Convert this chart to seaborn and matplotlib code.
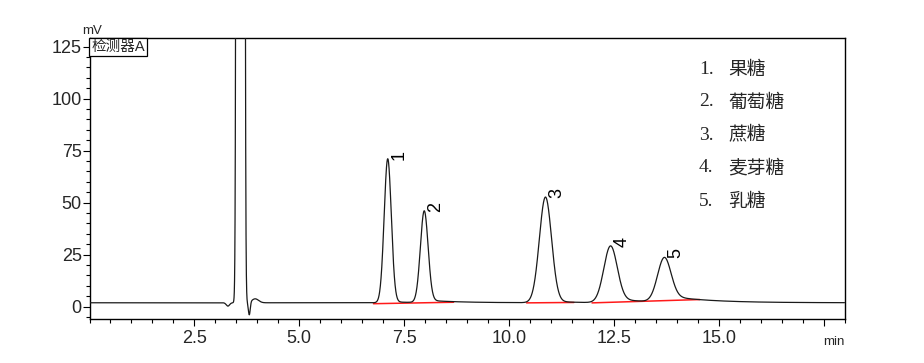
import math
import numpy as np
import pandas as pd
import matplotlib
matplotlib.use("Agg")
import matplotlib.pyplot as plt
import seaborn as sns

# ---------------- data ----------------
peak_labels = ["1", "2", "3", "4", "5"]
peak_names = ["果糖", "葡萄糖", "蔗糖", "麦芽糖", "乳糖"]
peak_rt = [7.11, 7.98, 10.87, 12.42, 13.70]          # min
peak_height = [69.0, 43.5, 50.3, 26.3, 19.8]         # mV above baseline
peak_sigma = [0.085, 0.092, 0.145, 0.160, 0.160]     # min
tail_height = [0.5, 1.2, 1.0, 2.0, 3.2]              # mV
tail_tau = [0.6, 0.8, 0.5, 0.8, 1.0]                 # min

# solvent front / system peaks
solvent_rt = [3.30, 3.60, 3.81, 3.95]
solvent_height = [-1.6, 40000.0, -6.2, 1.9]
solvent_sigma = [0.04, 0.035, 0.022, 0.08]

baseline_mv = 1.85

# integration baselines (red) : start/end time and level
bl_t0 = [6.77, 10.42, 11.98]
bl_t1 = [8.68, 11.55, 14.55]
bl_v0 = [1.4, 1.8, 1.8]
bl_v1 = [2.1, 2.0, 3.4]

x_ticks = [2.5, 5.0, 7.5, 10.0, 12.5, 15.0, 17.5]
x_ticklabels = ["2.5", "5.0", "7.5", "10.0", "12.5", "15.0", ""]
y_ticks = [0, 25, 50, 75, 100, 125]

# ---------------- build trace ----------------
t = np.arange(0.0, 18.0001, 0.002)
erf = np.vectorize(math.erf)
mv = np.full_like(t, baseline_mv)
for rt, h, s in zip(solvent_rt, solvent_height, solvent_sigma):
    mv += h * np.exp(-0.5 * ((t - rt) / s) ** 2)
for rt, h, s, th, tau in zip(peak_rt, peak_height, peak_sigma, tail_height, tail_tau):
    mv += h * np.exp(-0.5 * ((t - rt) / s) ** 2)
    step = 0.5 * (1 + erf((t - rt) / (1.5 * s)))
    mv += th * step * np.exp(-np.clip(t - rt, 0, None) / tau)

df = pd.DataFrame({"t": t, "mV": mv})

# ---------------- plot ----------------
sns.set_style("ticks")
plt.rcParams["font.family"] = ["Liberation Sans", "Noto Sans CJK SC", "DejaVu Sans"]

fig = plt.figure(figsize=(9.24, 3.63), dpi=100)
ax = fig.add_axes([89.5 / 924, (363 - 319.3) / 363, 755 / 924, 281 / 363])

for a0, a1, v0, v1 in zip(bl_t0, bl_t1, bl_v0, bl_v1):
    seg = pd.DataFrame({"t": [a0, a1], "mV": [v0, v1]})
    sns.lineplot(data=seg, x="t", y="mV", color="#ff1a1a", lw=1.1, ax=ax,
                 estimator=None, zorder=2)

sns.lineplot(data=df, x="t", y="mV", color="#1a1a1a", lw=0.9, ax=ax,
             estimator=None, zorder=3)

ax.set_xlim(0, 18)
ax.set_ylim(-6.1, 129.0)
ax.set_xlabel("")
ax.set_ylabel("")
ax.set_xticks(x_ticks)
ax.set_xticklabels(x_ticklabels)
ax.set_yticks(y_ticks)
ax.xaxis.set_minor_locator(matplotlib.ticker.MultipleLocator(0.5))
ax.yaxis.set_minor_locator(matplotlib.ticker.MultipleLocator(5))
ax.tick_params(axis="both", which="major", direction="out", length=5, width=0.8,
               labelsize=13, color="black")
ax.tick_params(axis="both", which="minor", direction="out", length=2.8, width=0.8,
               color="black")
ax.tick_params(axis="y", which="major", pad=0.5)
ax.tick_params(axis="x", which="major", pad=3)
for sp in ax.spines.values():
    sp.set_visible(True)
    sp.set_color("black")
    sp.set_linewidth(1.0)

# peak numbers
for lab, rt in zip(peak_labels, peak_rt):
    top = np.interp(rt, t, mv)
    ax.text(rt + 0.07, top - 0.5, lab, rotation=90, ha="left", va="bottom",
            fontsize=13, color="black", zorder=4)

# detector box
ax.annotate("检测器A", xy=(0, 1), xycoords="axes fraction", xytext=(1.2, -1.2),
            textcoords="offset points", ha="left", va="top", fontsize=10.5,
            bbox=dict(boxstyle="square,pad=0.12", fc="white", ec="black", lw=0.9),
            zorder=5)

fig.text(92 / 924, 1 - 31 / 363, "mV", ha="center", va="center", fontsize=9.5)
fig.text(834 / 924, 1 - 342 / 363, "min", ha="center", va="center", fontsize=9.5)

# legend list
for i, (lab, name) in enumerate(zip(peak_labels, peak_names)):
    yy = 1 - (69 + 33 * i) / 363
    fig.text(699 / 924, yy, lab + ".", ha="left", va="center", fontsize=14,
             family=["Liberation Serif", "DejaVu Serif"])
    fig.text(728 / 924, yy, name, ha="left", va="center", fontsize=13.5,
             family=["Noto Sans CJK SC", "DejaVu Sans"])

fig.savefig("out.png", dpi=100)
